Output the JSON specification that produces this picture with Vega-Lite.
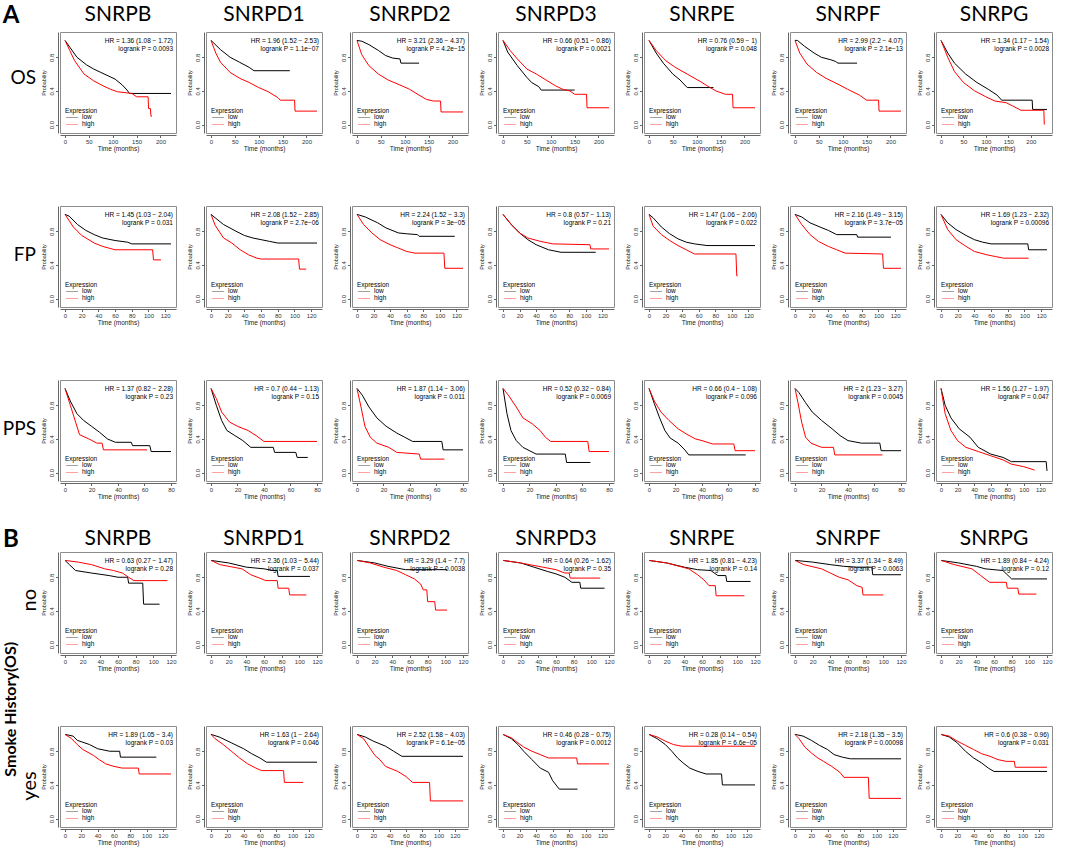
{
"$schema": "https://vega.github.io/schema/vega-lite/v6.json",
"background": "white",
"padding": {"top": 4, "left": 2, "right": 0, "bottom": 0},
"spacing": 27,
"config": {
 "font": "Liberation Sans",
 "view": {"stroke": "#8c8c8c", "strokeWidth": 1},
 "axis": {"grid": false, "labelFont": "Liberation Sans", "labelFontSize": 6, "labelColor": "#333", "tickColor": "#666", "domainColor": "#666", "tickSize": 2.5, "labelPadding": 1, "titleFont": "Liberation Sans", "titleFontWeight": "normal", "titleColor": "#222", "offset": 2},
 "axisX": {"titleFontSize": 6.5, "titlePadding": 1, "tickCount": 5},
 "axisY": {"titleFontSize": 5.5, "titlePadding": 2, "labelAngle": 270, "labelAlign": "center", "labelBaseline": "bottom"},
 "header": {"labelFont": "Lato", "labelColor": "#000", "titleFont": "Lato", "titleColor": "#000"},
 "title": {"font": "Lato", "color": "#000", "fontWeight": "bold"}
},
"datasets": {
 "A": [
{"g":"B","r":"OS","k":1,"h":"HR = 1.36 (1.08 − 1.72)","p":"logrank P = 0.0093"},
{"g":"D1","r":"OS","k":1,"h":"HR = 1.96 (1.52 − 2.53)","p":"logrank P = 1.1e−07"},
{"g":"D2","r":"OS","k":1,"h":"HR = 3.21 (2.36 − 4.37)","p":"logrank P = 4.2e−15"},
{"g":"D3","r":"OS","k":1,"h":"HR = 0.66 (0.51 − 0.86)","p":"logrank P = 0.0021"},
{"g":"E","r":"OS","k":1,"h":"HR = 0.76 (0.59 − 1)","p":"logrank P = 0.048"},
{"g":"F","r":"OS","k":1,"h":"HR = 2.99 (2.2 − 4.07)","p":"logrank P = 2.1e−13"},
{"g":"G","r":"OS","k":1,"h":"HR = 1.34 (1.17 − 1.54)","p":"logrank P = 0.0028"},
{"g":"B","r":"FP","k":1,"h":"HR = 1.45 (1.03 − 2.04)","p":"logrank P = 0.031"},
{"g":"D1","r":"FP","k":1,"h":"HR = 2.08 (1.52 − 2.85)","p":"logrank P = 2.7e−06"},
{"g":"D2","r":"FP","k":1,"h":"HR = 2.24 (1.52 − 3.3)","p":"logrank P = 3e−05"},
{"g":"D3","r":"FP","k":1,"h":"HR = 0.8 (0.57 − 1.13)","p":"logrank P = 0.21"},
{"g":"E","r":"FP","k":1,"h":"HR = 1.47 (1.06 − 2.06)","p":"logrank P = 0.022"},
{"g":"F","r":"FP","k":1,"h":"HR = 2.16 (1.49 − 3.15)","p":"logrank P = 3.7e−05"},
{"g":"G","r":"FP","k":1,"h":"HR = 1.69 (1.23 − 2.32)","p":"logrank P = 0.00096"},
{"g":"B","r":"PPS","k":1,"h":"HR = 1.37 (0.82 − 2.28)","p":"logrank P = 0.23"},
{"g":"D1","r":"PPS","k":1,"h":"HR = 0.7 (0.44 − 1.13)","p":"logrank P = 0.15"},
{"g":"D2","r":"PPS","k":1,"h":"HR = 1.87 (1.14 − 3.06)","p":"logrank P = 0.011"},
{"g":"D3","r":"PPS","k":1,"h":"HR = 0.52 (0.32 − 0.84)","p":"logrank P = 0.0069"},
{"g":"E","r":"PPS","k":1,"h":"HR = 0.66 (0.4 − 1.08)","p":"logrank P = 0.096"},
{"g":"F","r":"PPS","k":1,"h":"HR = 2 (1.23 − 3.27)","p":"logrank P = 0.0045"},
{"g":"G","r":"PPS","k":1,"h":"HR = 1.56 (1.27 − 1.97)","p":"logrank P = 0.047"},
{"g":"B","r":"OS","e":"l","t":0,"s":1},{"g":"B","r":"OS","e":"l","t":10,"s":0.92},{"g":"B","r":"OS","e":"l","t":25,"s":0.8},{"g":"B","r":"OS","e":"l","t":45,"s":0.71},{"g":"B","r":"OS","e":"l","t":60,"s":0.66},{"g":"B","r":"OS","e":"l","t":75,"s":0.62},{"g":"B","r":"OS","e":"l","t":90,"s":0.58},{"g":"B","r":"OS","e":"l","t":105,"s":0.54},{"g":"B","r":"OS","e":"l","t":120,"s":0.47},{"g":"B","r":"OS","e":"l","t":130,"s":0.41},{"g":"B","r":"OS","e":"l","t":135,"s":0.37},{"g":"B","r":"OS","e":"l","t":222,"s":0.37},
{"g":"B","r":"OS","e":"h","t":0,"s":1},{"g":"B","r":"OS","e":"h","t":10,"s":0.88},{"g":"B","r":"OS","e":"h","t":20,"s":0.76},{"g":"B","r":"OS","e":"h","t":40,"s":0.6},{"g":"B","r":"OS","e":"h","t":60,"s":0.52},{"g":"B","r":"OS","e":"h","t":80,"s":0.46},{"g":"B","r":"OS","e":"h","t":95,"s":0.42},{"g":"B","r":"OS","e":"h","t":110,"s":0.39},{"g":"B","r":"OS","e":"h","t":140,"s":0.37},{"g":"B","r":"OS","e":"h","t":150,"s":0.33},{"g":"B","r":"OS","e":"h","t":174,"s":0.33},{"g":"B","r":"OS","e":"h","t":175,"s":0.19},{"g":"B","r":"OS","e":"h","t":179,"s":0.19},{"g":"B","r":"OS","e":"h","t":180,"s":0.1},{"g":"B","r":"OS","e":"h","t":182,"s":0.1},
{"g":"D1","r":"OS","e":"l","t":0,"s":1},{"g":"D1","r":"OS","e":"l","t":20,"s":0.89},{"g":"D1","r":"OS","e":"l","t":40,"s":0.8},{"g":"D1","r":"OS","e":"l","t":60,"s":0.74},{"g":"D1","r":"OS","e":"l","t":80,"s":0.68},{"g":"D1","r":"OS","e":"l","t":90,"s":0.64},{"g":"D1","r":"OS","e":"l","t":165,"s":0.64},
{"g":"D1","r":"OS","e":"h","t":0,"s":1},{"g":"D1","r":"OS","e":"h","t":10,"s":0.85},{"g":"D1","r":"OS","e":"h","t":20,"s":0.74},{"g":"D1","r":"OS","e":"h","t":40,"s":0.62},{"g":"D1","r":"OS","e":"h","t":60,"s":0.55},{"g":"D1","r":"OS","e":"h","t":80,"s":0.5},{"g":"D1","r":"OS","e":"h","t":100,"s":0.44},{"g":"D1","r":"OS","e":"h","t":120,"s":0.39},{"g":"D1","r":"OS","e":"h","t":140,"s":0.32},{"g":"D1","r":"OS","e":"h","t":145,"s":0.29},{"g":"D1","r":"OS","e":"h","t":175,"s":0.29},{"g":"D1","r":"OS","e":"h","t":176,"s":0.16},{"g":"D1","r":"OS","e":"h","t":222,"s":0.16},
{"g":"D2","r":"OS","e":"l","t":0,"s":1},{"g":"D2","r":"OS","e":"l","t":10,"s":0.99},{"g":"D2","r":"OS","e":"l","t":25,"s":0.95},{"g":"D2","r":"OS","e":"l","t":45,"s":0.88},{"g":"D2","r":"OS","e":"l","t":60,"s":0.82},{"g":"D2","r":"OS","e":"l","t":75,"s":0.79},{"g":"D2","r":"OS","e":"l","t":90,"s":0.78},{"g":"D2","r":"OS","e":"l","t":92,"s":0.73},{"g":"D2","r":"OS","e":"l","t":130,"s":0.73},
{"g":"D2","r":"OS","e":"h","t":0,"s":1},{"g":"D2","r":"OS","e":"h","t":10,"s":0.83},{"g":"D2","r":"OS","e":"h","t":25,"s":0.7},{"g":"D2","r":"OS","e":"h","t":45,"s":0.6},{"g":"D2","r":"OS","e":"h","t":65,"s":0.53},{"g":"D2","r":"OS","e":"h","t":90,"s":0.47},{"g":"D2","r":"OS","e":"h","t":110,"s":0.42},{"g":"D2","r":"OS","e":"h","t":130,"s":0.35},{"g":"D2","r":"OS","e":"h","t":145,"s":0.3},{"g":"D2","r":"OS","e":"h","t":160,"s":0.28},{"g":"D2","r":"OS","e":"h","t":175,"s":0.28},{"g":"D2","r":"OS","e":"h","t":176,"s":0.15},{"g":"D2","r":"OS","e":"h","t":222,"s":0.15},
{"g":"D3","r":"OS","e":"l","t":0,"s":1},{"g":"D3","r":"OS","e":"l","t":10,"s":0.86},{"g":"D3","r":"OS","e":"l","t":30,"s":0.7},{"g":"D3","r":"OS","e":"l","t":50,"s":0.56},{"g":"D3","r":"OS","e":"l","t":60,"s":0.5},{"g":"D3","r":"OS","e":"l","t":75,"s":0.45},{"g":"D3","r":"OS","e":"l","t":80,"s":0.41},{"g":"D3","r":"OS","e":"l","t":150,"s":0.41},
{"g":"D3","r":"OS","e":"h","t":0,"s":1},{"g":"D3","r":"OS","e":"h","t":15,"s":0.88},{"g":"D3","r":"OS","e":"h","t":30,"s":0.78},{"g":"D3","r":"OS","e":"h","t":50,"s":0.66},{"g":"D3","r":"OS","e":"h","t":70,"s":0.6},{"g":"D3","r":"OS","e":"h","t":90,"s":0.53},{"g":"D3","r":"OS","e":"h","t":110,"s":0.46},{"g":"D3","r":"OS","e":"h","t":125,"s":0.42},{"g":"D3","r":"OS","e":"h","t":140,"s":0.4},{"g":"D3","r":"OS","e":"h","t":150,"s":0.36},{"g":"D3","r":"OS","e":"h","t":175,"s":0.36},{"g":"D3","r":"OS","e":"h","t":176,"s":0.2},{"g":"D3","r":"OS","e":"h","t":222,"s":0.2},
{"g":"E","r":"OS","e":"l","t":0,"s":1},{"g":"E","r":"OS","e":"l","t":15,"s":0.85},{"g":"E","r":"OS","e":"l","t":30,"s":0.73},{"g":"E","r":"OS","e":"l","t":50,"s":0.6},{"g":"E","r":"OS","e":"l","t":65,"s":0.53},{"g":"E","r":"OS","e":"l","t":80,"s":0.44},{"g":"E","r":"OS","e":"l","t":135,"s":0.44},
{"g":"E","r":"OS","e":"h","t":0,"s":1},{"g":"E","r":"OS","e":"h","t":15,"s":0.88},{"g":"E","r":"OS","e":"h","t":35,"s":0.76},{"g":"E","r":"OS","e":"h","t":55,"s":0.68},{"g":"E","r":"OS","e":"h","t":80,"s":0.6},{"g":"E","r":"OS","e":"h","t":105,"s":0.52},{"g":"E","r":"OS","e":"h","t":125,"s":0.45},{"g":"E","r":"OS","e":"h","t":140,"s":0.4},{"g":"E","r":"OS","e":"h","t":160,"s":0.36},{"g":"E","r":"OS","e":"h","t":175,"s":0.36},{"g":"E","r":"OS","e":"h","t":176,"s":0.2},{"g":"E","r":"OS","e":"h","t":222,"s":0.2},
{"g":"F","r":"OS","e":"l","t":0,"s":1},{"g":"F","r":"OS","e":"l","t":5,"s":1},{"g":"F","r":"OS","e":"l","t":20,"s":0.93},{"g":"F","r":"OS","e":"l","t":40,"s":0.85},{"g":"F","r":"OS","e":"l","t":55,"s":0.8},{"g":"F","r":"OS","e":"l","t":75,"s":0.77},{"g":"F","r":"OS","e":"l","t":85,"s":0.75},{"g":"F","r":"OS","e":"l","t":90,"s":0.73},{"g":"F","r":"OS","e":"l","t":130,"s":0.73},
{"g":"F","r":"OS","e":"h","t":0,"s":1},{"g":"F","r":"OS","e":"h","t":10,"s":0.85},{"g":"F","r":"OS","e":"h","t":25,"s":0.72},{"g":"F","r":"OS","e":"h","t":45,"s":0.62},{"g":"F","r":"OS","e":"h","t":65,"s":0.55},{"g":"F","r":"OS","e":"h","t":90,"s":0.48},{"g":"F","r":"OS","e":"h","t":110,"s":0.42},{"g":"F","r":"OS","e":"h","t":135,"s":0.35},{"g":"F","r":"OS","e":"h","t":150,"s":0.29},{"g":"F","r":"OS","e":"h","t":175,"s":0.29},{"g":"F","r":"OS","e":"h","t":176,"s":0.16},{"g":"F","r":"OS","e":"h","t":222,"s":0.16},
{"g":"G","r":"OS","e":"l","t":0,"s":1},{"g":"G","r":"OS","e":"l","t":15,"s":0.85},{"g":"G","r":"OS","e":"l","t":30,"s":0.73},{"g":"G","r":"OS","e":"l","t":55,"s":0.6},{"g":"G","r":"OS","e":"l","t":80,"s":0.5},{"g":"G","r":"OS","e":"l","t":105,"s":0.42},{"g":"G","r":"OS","e":"l","t":125,"s":0.35},{"g":"G","r":"OS","e":"l","t":135,"s":0.29},{"g":"G","r":"OS","e":"l","t":203,"s":0.29},{"g":"G","r":"OS","e":"l","t":204,"s":0.18},{"g":"G","r":"OS","e":"l","t":236,"s":0.18},
{"g":"G","r":"OS","e":"h","t":0,"s":1},{"g":"G","r":"OS","e":"h","t":15,"s":0.8},{"g":"G","r":"OS","e":"h","t":30,"s":0.63},{"g":"G","r":"OS","e":"h","t":50,"s":0.5},{"g":"G","r":"OS","e":"h","t":75,"s":0.4},{"g":"G","r":"OS","e":"h","t":100,"s":0.33},{"g":"G","r":"OS","e":"h","t":120,"s":0.28},{"g":"G","r":"OS","e":"h","t":145,"s":0.26},{"g":"G","r":"OS","e":"h","t":160,"s":0.22},{"g":"G","r":"OS","e":"h","t":178,"s":0.17},{"g":"G","r":"OS","e":"h","t":229,"s":0.17},{"g":"G","r":"OS","e":"h","t":230,"s":0},
{"g":"B","r":"FP","e":"l","t":0,"s":1},{"g":"B","r":"FP","e":"l","t":5,"s":0.98},{"g":"B","r":"FP","e":"l","t":15,"s":0.88},{"g":"B","r":"FP","e":"l","t":25,"s":0.81},{"g":"B","r":"FP","e":"l","t":35,"s":0.76},{"g":"B","r":"FP","e":"l","t":45,"s":0.72},{"g":"B","r":"FP","e":"l","t":60,"s":0.69},{"g":"B","r":"FP","e":"l","t":75,"s":0.67},{"g":"B","r":"FP","e":"l","t":80,"s":0.65},{"g":"B","r":"FP","e":"l","t":127,"s":0.65},
{"g":"B","r":"FP","e":"h","t":0,"s":1},{"g":"B","r":"FP","e":"h","t":10,"s":0.85},{"g":"B","r":"FP","e":"h","t":20,"s":0.75},{"g":"B","r":"FP","e":"h","t":35,"s":0.66},{"g":"B","r":"FP","e":"h","t":45,"s":0.62},{"g":"B","r":"FP","e":"h","t":60,"s":0.58},{"g":"B","r":"FP","e":"h","t":105,"s":0.58},{"g":"B","r":"FP","e":"h","t":106,"s":0.46},{"g":"B","r":"FP","e":"h","t":115,"s":0.46},
{"g":"D1","r":"FP","e":"l","t":0,"s":1},{"g":"D1","r":"FP","e":"l","t":5,"s":0.96},{"g":"D1","r":"FP","e":"l","t":15,"s":0.88},{"g":"D1","r":"FP","e":"l","t":30,"s":0.8},{"g":"D1","r":"FP","e":"l","t":40,"s":0.75},{"g":"D1","r":"FP","e":"l","t":50,"s":0.72},{"g":"D1","r":"FP","e":"l","t":60,"s":0.7},{"g":"D1","r":"FP","e":"l","t":70,"s":0.68},{"g":"D1","r":"FP","e":"l","t":80,"s":0.66},{"g":"D1","r":"FP","e":"l","t":127,"s":0.66},
{"g":"D1","r":"FP","e":"h","t":0,"s":1},{"g":"D1","r":"FP","e":"h","t":5,"s":0.87},{"g":"D1","r":"FP","e":"h","t":15,"s":0.72},{"g":"D1","r":"FP","e":"h","t":25,"s":0.66},{"g":"D1","r":"FP","e":"h","t":35,"s":0.58},{"g":"D1","r":"FP","e":"h","t":45,"s":0.52},{"g":"D1","r":"FP","e":"h","t":55,"s":0.48},{"g":"D1","r":"FP","e":"h","t":60,"s":0.47},{"g":"D1","r":"FP","e":"h","t":105,"s":0.47},{"g":"D1","r":"FP","e":"h","t":106,"s":0.35},{"g":"D1","r":"FP","e":"h","t":114,"s":0.35},
{"g":"D2","r":"FP","e":"l","t":0,"s":1},{"g":"D2","r":"FP","e":"l","t":10,"s":0.97},{"g":"D2","r":"FP","e":"l","t":25,"s":0.9},{"g":"D2","r":"FP","e":"l","t":35,"s":0.84},{"g":"D2","r":"FP","e":"l","t":50,"s":0.78},{"g":"D2","r":"FP","e":"l","t":60,"s":0.77},{"g":"D2","r":"FP","e":"l","t":73,"s":0.76},{"g":"D2","r":"FP","e":"l","t":75,"s":0.74},{"g":"D2","r":"FP","e":"l","t":118,"s":0.74},
{"g":"D2","r":"FP","e":"h","t":0,"s":1},{"g":"D2","r":"FP","e":"h","t":8,"s":0.88},{"g":"D2","r":"FP","e":"h","t":18,"s":0.78},{"g":"D2","r":"FP","e":"h","t":28,"s":0.7},{"g":"D2","r":"FP","e":"h","t":40,"s":0.64},{"g":"D2","r":"FP","e":"h","t":50,"s":0.6},{"g":"D2","r":"FP","e":"h","t":60,"s":0.56},{"g":"D2","r":"FP","e":"h","t":70,"s":0.54},{"g":"D2","r":"FP","e":"h","t":105,"s":0.54},{"g":"D2","r":"FP","e":"h","t":106,"s":0.36},{"g":"D2","r":"FP","e":"h","t":128,"s":0.36},
{"g":"D3","r":"FP","e":"l","t":0,"s":1},{"g":"D3","r":"FP","e":"l","t":10,"s":0.88},{"g":"D3","r":"FP","e":"l","t":20,"s":0.78},{"g":"D3","r":"FP","e":"l","t":30,"s":0.7},{"g":"D3","r":"FP","e":"l","t":40,"s":0.64},{"g":"D3","r":"FP","e":"l","t":55,"s":0.58},{"g":"D3","r":"FP","e":"l","t":70,"s":0.55},{"g":"D3","r":"FP","e":"l","t":112,"s":0.55},
{"g":"D3","r":"FP","e":"h","t":0,"s":1},{"g":"D3","r":"FP","e":"h","t":10,"s":0.88},{"g":"D3","r":"FP","e":"h","t":20,"s":0.78},{"g":"D3","r":"FP","e":"h","t":30,"s":0.72},{"g":"D3","r":"FP","e":"h","t":45,"s":0.68},{"g":"D3","r":"FP","e":"h","t":60,"s":0.65},{"g":"D3","r":"FP","e":"h","t":105,"s":0.64},{"g":"D3","r":"FP","e":"h","t":106,"s":0.59},{"g":"D3","r":"FP","e":"h","t":128,"s":0.59},
{"g":"E","r":"FP","e":"l","t":0,"s":1},{"g":"E","r":"FP","e":"l","t":5,"s":0.96},{"g":"E","r":"FP","e":"l","t":15,"s":0.85},{"g":"E","r":"FP","e":"l","t":25,"s":0.77},{"g":"E","r":"FP","e":"l","t":35,"s":0.71},{"g":"E","r":"FP","e":"l","t":45,"s":0.67},{"g":"E","r":"FP","e":"l","t":55,"s":0.65},{"g":"E","r":"FP","e":"l","t":70,"s":0.63},{"g":"E","r":"FP","e":"l","t":128,"s":0.63},
{"g":"E","r":"FP","e":"h","t":0,"s":1},{"g":"E","r":"FP","e":"h","t":5,"s":0.86},{"g":"E","r":"FP","e":"h","t":15,"s":0.76},{"g":"E","r":"FP","e":"h","t":25,"s":0.69},{"g":"E","r":"FP","e":"h","t":35,"s":0.63},{"g":"E","r":"FP","e":"h","t":45,"s":0.58},{"g":"E","r":"FP","e":"h","t":55,"s":0.53},{"g":"E","r":"FP","e":"h","t":105,"s":0.53},{"g":"E","r":"FP","e":"h","t":106,"s":0.27},{"g":"E","r":"FP","e":"h","t":107,"s":0.27},
{"g":"F","r":"FP","e":"l","t":0,"s":1},{"g":"F","r":"FP","e":"l","t":8,"s":0.97},{"g":"F","r":"FP","e":"l","t":18,"s":0.9},{"g":"F","r":"FP","e":"l","t":30,"s":0.85},{"g":"F","r":"FP","e":"l","t":40,"s":0.81},{"g":"F","r":"FP","e":"l","t":50,"s":0.76},{"g":"F","r":"FP","e":"l","t":74,"s":0.76},{"g":"F","r":"FP","e":"l","t":75,"s":0.73},{"g":"F","r":"FP","e":"l","t":115,"s":0.73},
{"g":"F","r":"FP","e":"h","t":0,"s":1},{"g":"F","r":"FP","e":"h","t":8,"s":0.88},{"g":"F","r":"FP","e":"h","t":18,"s":0.76},{"g":"F","r":"FP","e":"h","t":28,"s":0.68},{"g":"F","r":"FP","e":"h","t":40,"s":0.62},{"g":"F","r":"FP","e":"h","t":50,"s":0.58},{"g":"F","r":"FP","e":"h","t":60,"s":0.54},{"g":"F","r":"FP","e":"h","t":105,"s":0.53},{"g":"F","r":"FP","e":"h","t":106,"s":0.36},{"g":"F","r":"FP","e":"h","t":127,"s":0.36},
{"g":"G","r":"FP","e":"l","t":0,"s":1},{"g":"G","r":"FP","e":"l","t":8,"s":0.9},{"g":"G","r":"FP","e":"l","t":18,"s":0.82},{"g":"G","r":"FP","e":"l","t":30,"s":0.75},{"g":"G","r":"FP","e":"l","t":40,"s":0.7},{"g":"G","r":"FP","e":"l","t":50,"s":0.67},{"g":"G","r":"FP","e":"l","t":60,"s":0.65},{"g":"G","r":"FP","e":"l","t":104,"s":0.65},{"g":"G","r":"FP","e":"l","t":105,"s":0.58},{"g":"G","r":"FP","e":"l","t":127,"s":0.58},
{"g":"G","r":"FP","e":"h","t":0,"s":1},{"g":"G","r":"FP","e":"h","t":8,"s":0.82},{"g":"G","r":"FP","e":"h","t":18,"s":0.7},{"g":"G","r":"FP","e":"h","t":30,"s":0.62},{"g":"G","r":"FP","e":"h","t":40,"s":0.56},{"g":"G","r":"FP","e":"h","t":55,"s":0.52},{"g":"G","r":"FP","e":"h","t":65,"s":0.5},{"g":"G","r":"FP","e":"h","t":75,"s":0.48},{"g":"G","r":"FP","e":"h","t":105,"s":0.48},
{"g":"B","r":"PPS","e":"l","t":0,"s":1},{"g":"B","r":"PPS","e":"l","t":4,"s":0.85},{"g":"B","r":"PPS","e":"l","t":9,"s":0.7},{"g":"B","r":"PPS","e":"l","t":14,"s":0.62},{"g":"B","r":"PPS","e":"l","t":20,"s":0.55},{"g":"B","r":"PPS","e":"l","t":26,"s":0.48},{"g":"B","r":"PPS","e":"l","t":32,"s":0.4},{"g":"B","r":"PPS","e":"l","t":38,"s":0.36},{"g":"B","r":"PPS","e":"l","t":50,"s":0.36},{"g":"B","r":"PPS","e":"l","t":51,"s":0.32},{"g":"B","r":"PPS","e":"l","t":64,"s":0.32},{"g":"B","r":"PPS","e":"l","t":65,"s":0.25},{"g":"B","r":"PPS","e":"l","t":80,"s":0.25},
{"g":"B","r":"PPS","e":"h","t":0,"s":1},{"g":"B","r":"PPS","e":"h","t":4,"s":0.8},{"g":"B","r":"PPS","e":"h","t":8,"s":0.6},{"g":"B","r":"PPS","e":"h","t":11,"s":0.45},{"g":"B","r":"PPS","e":"h","t":18,"s":0.4},{"g":"B","r":"PPS","e":"h","t":24,"s":0.35},{"g":"B","r":"PPS","e":"h","t":28,"s":0.35},{"g":"B","r":"PPS","e":"h","t":29,"s":0.27},{"g":"B","r":"PPS","e":"h","t":62,"s":0.27},
{"g":"D1","r":"PPS","e":"l","t":0,"s":1},{"g":"D1","r":"PPS","e":"l","t":4,"s":0.8},{"g":"D1","r":"PPS","e":"l","t":8,"s":0.62},{"g":"D1","r":"PPS","e":"l","t":12,"s":0.5},{"g":"D1","r":"PPS","e":"l","t":18,"s":0.44},{"g":"D1","r":"PPS","e":"l","t":24,"s":0.38},{"g":"D1","r":"PPS","e":"l","t":30,"s":0.3},{"g":"D1","r":"PPS","e":"l","t":47,"s":0.3},{"g":"D1","r":"PPS","e":"l","t":48,"s":0.24},{"g":"D1","r":"PPS","e":"l","t":64,"s":0.24},{"g":"D1","r":"PPS","e":"l","t":65,"s":0.18},{"g":"D1","r":"PPS","e":"l","t":73,"s":0.18},
{"g":"D1","r":"PPS","e":"h","t":0,"s":1},{"g":"D1","r":"PPS","e":"h","t":4,"s":0.88},{"g":"D1","r":"PPS","e":"h","t":8,"s":0.72},{"g":"D1","r":"PPS","e":"h","t":14,"s":0.6},{"g":"D1","r":"PPS","e":"h","t":20,"s":0.55},{"g":"D1","r":"PPS","e":"h","t":28,"s":0.5},{"g":"D1","r":"PPS","e":"h","t":34,"s":0.44},{"g":"D1","r":"PPS","e":"h","t":40,"s":0.37},{"g":"D1","r":"PPS","e":"h","t":80,"s":0.37},
{"g":"D2","r":"PPS","e":"l","t":0,"s":1},{"g":"D2","r":"PPS","e":"l","t":4,"s":0.92},{"g":"D2","r":"PPS","e":"l","t":9,"s":0.78},{"g":"D2","r":"PPS","e":"l","t":15,"s":0.65},{"g":"D2","r":"PPS","e":"l","t":22,"s":0.55},{"g":"D2","r":"PPS","e":"l","t":30,"s":0.47},{"g":"D2","r":"PPS","e":"l","t":36,"s":0.42},{"g":"D2","r":"PPS","e":"l","t":42,"s":0.37},{"g":"D2","r":"PPS","e":"l","t":64,"s":0.37},{"g":"D2","r":"PPS","e":"l","t":65,"s":0.27},{"g":"D2","r":"PPS","e":"l","t":80,"s":0.27},
{"g":"D2","r":"PPS","e":"h","t":0,"s":1},{"g":"D2","r":"PPS","e":"h","t":3,"s":0.78},{"g":"D2","r":"PPS","e":"h","t":6,"s":0.55},{"g":"D2","r":"PPS","e":"h","t":10,"s":0.42},{"g":"D2","r":"PPS","e":"h","t":15,"s":0.35},{"g":"D2","r":"PPS","e":"h","t":24,"s":0.3},{"g":"D2","r":"PPS","e":"h","t":30,"s":0.24},{"g":"D2","r":"PPS","e":"h","t":47,"s":0.22},{"g":"D2","r":"PPS","e":"h","t":48,"s":0.16},{"g":"D2","r":"PPS","e":"h","t":66,"s":0.16},
{"g":"D3","r":"PPS","e":"l","t":0,"s":1},{"g":"D3","r":"PPS","e":"l","t":3,"s":0.7},{"g":"D3","r":"PPS","e":"l","t":6,"s":0.5},{"g":"D3","r":"PPS","e":"l","t":10,"s":0.38},{"g":"D3","r":"PPS","e":"l","t":15,"s":0.3},{"g":"D3","r":"PPS","e":"l","t":25,"s":0.22},{"g":"D3","r":"PPS","e":"l","t":47,"s":0.22},{"g":"D3","r":"PPS","e":"l","t":48,"s":0.12},{"g":"D3","r":"PPS","e":"l","t":66,"s":0.12},
{"g":"D3","r":"PPS","e":"h","t":0,"s":1},{"g":"D3","r":"PPS","e":"h","t":4,"s":0.92},{"g":"D3","r":"PPS","e":"h","t":10,"s":0.78},{"g":"D3","r":"PPS","e":"h","t":15,"s":0.65},{"g":"D3","r":"PPS","e":"h","t":22,"s":0.58},{"g":"D3","r":"PPS","e":"h","t":28,"s":0.5},{"g":"D3","r":"PPS","e":"h","t":32,"s":0.42},{"g":"D3","r":"PPS","e":"h","t":36,"s":0.37},{"g":"D3","r":"PPS","e":"h","t":64,"s":0.37},{"g":"D3","r":"PPS","e":"h","t":65,"s":0.25},{"g":"D3","r":"PPS","e":"h","t":80,"s":0.25},
{"g":"E","r":"PPS","e":"l","t":0,"s":1},{"g":"E","r":"PPS","e":"l","t":4,"s":0.82},{"g":"E","r":"PPS","e":"l","t":8,"s":0.65},{"g":"E","r":"PPS","e":"l","t":12,"s":0.5},{"g":"E","r":"PPS","e":"l","t":16,"s":0.41},{"g":"E","r":"PPS","e":"l","t":22,"s":0.35},{"g":"E","r":"PPS","e":"l","t":27,"s":0.27},{"g":"E","r":"PPS","e":"l","t":30,"s":0.21},{"g":"E","r":"PPS","e":"l","t":73,"s":0.21},
{"g":"E","r":"PPS","e":"h","t":0,"s":1},{"g":"E","r":"PPS","e":"h","t":4,"s":0.85},{"g":"E","r":"PPS","e":"h","t":9,"s":0.72},{"g":"E","r":"PPS","e":"h","t":15,"s":0.62},{"g":"E","r":"PPS","e":"h","t":22,"s":0.52},{"g":"E","r":"PPS","e":"h","t":28,"s":0.46},{"g":"E","r":"PPS","e":"h","t":35,"s":0.4},{"g":"E","r":"PPS","e":"h","t":40,"s":0.38},{"g":"E","r":"PPS","e":"h","t":48,"s":0.34},{"g":"E","r":"PPS","e":"h","t":64,"s":0.34},{"g":"E","r":"PPS","e":"h","t":65,"s":0.26},{"g":"E","r":"PPS","e":"h","t":80,"s":0.26},
{"g":"F","r":"PPS","e":"l","t":0,"s":1},{"g":"F","r":"PPS","e":"l","t":3,"s":0.95},{"g":"F","r":"PPS","e":"l","t":8,"s":0.83},{"g":"F","r":"PPS","e":"l","t":13,"s":0.72},{"g":"F","r":"PPS","e":"l","t":20,"s":0.62},{"g":"F","r":"PPS","e":"l","t":28,"s":0.52},{"g":"F","r":"PPS","e":"l","t":34,"s":0.44},{"g":"F","r":"PPS","e":"l","t":40,"s":0.38},{"g":"F","r":"PPS","e":"l","t":50,"s":0.35},{"g":"F","r":"PPS","e":"l","t":64,"s":0.35},{"g":"F","r":"PPS","e":"l","t":65,"s":0.26},{"g":"F","r":"PPS","e":"l","t":80,"s":0.26},
{"g":"F","r":"PPS","e":"h","t":0,"s":1},{"g":"F","r":"PPS","e":"h","t":2,"s":0.85},{"g":"F","r":"PPS","e":"h","t":5,"s":0.6},{"g":"F","r":"PPS","e":"h","t":8,"s":0.42},{"g":"F","r":"PPS","e":"h","t":12,"s":0.35},{"g":"F","r":"PPS","e":"h","t":20,"s":0.3},{"g":"F","r":"PPS","e":"h","t":29,"s":0.3},{"g":"F","r":"PPS","e":"h","t":30,"s":0.21},{"g":"F","r":"PPS","e":"h","t":66,"s":0.21},
{"g":"G","r":"PPS","e":"l","t":0,"s":1},{"g":"G","r":"PPS","e":"l","t":5,"s":0.8},{"g":"G","r":"PPS","e":"l","t":12,"s":0.65},{"g":"G","r":"PPS","e":"l","t":22,"s":0.52},{"g":"G","r":"PPS","e":"l","t":35,"s":0.42},{"g":"G","r":"PPS","e":"l","t":45,"s":0.3},{"g":"G","r":"PPS","e":"l","t":60,"s":0.22},{"g":"G","r":"PPS","e":"l","t":75,"s":0.18},{"g":"G","r":"PPS","e":"l","t":85,"s":0.13},{"g":"G","r":"PPS","e":"l","t":127,"s":0.13},{"g":"G","r":"PPS","e":"l","t":128,"s":0.02},
{"g":"G","r":"PPS","e":"h","t":0,"s":1},{"g":"G","r":"PPS","e":"h","t":5,"s":0.7},{"g":"G","r":"PPS","e":"h","t":12,"s":0.5},{"g":"G","r":"PPS","e":"h","t":20,"s":0.38},{"g":"G","r":"PPS","e":"h","t":30,"s":0.3},{"g":"G","r":"PPS","e":"h","t":45,"s":0.25},{"g":"G","r":"PPS","e":"h","t":60,"s":0.2},{"g":"G","r":"PPS","e":"h","t":75,"s":0.15},{"g":"G","r":"PPS","e":"h","t":85,"s":0.1},{"g":"G","r":"PPS","e":"h","t":100,"s":0.07},{"g":"G","r":"PPS","e":"h","t":113,"s":0.03}
 ],
 "B": [
{"g":"B","r":"no","k":1,"h":"HR = 0.63 (0.27 − 1.47)","p":"logrank P = 0.28"},
{"g":"D1","r":"no","k":1,"h":"HR = 2.36 (1.03 − 5.44)","p":"logrank P = 0.037"},
{"g":"D2","r":"no","k":1,"h":"HR = 3.29 (1.4 − 7.7)","p":"logrank P = 0.0038"},
{"g":"D3","r":"no","k":1,"h":"HR = 0.64 (0.26 − 1.62)","p":"logrank P = 0.35"},
{"g":"E","r":"no","k":1,"h":"HR = 1.85 (0.81 − 4.23)","p":"logrank P = 0.14"},
{"g":"F","r":"no","k":1,"h":"HR = 3.37 (1.34 − 8.49)","p":"logrank P = 0.0063"},
{"g":"G","r":"no","k":1,"h":"HR = 1.89 (0.84 − 4.24)","p":"logrank P = 0.12"},
{"g":"B","r":"yes","k":1,"h":"HR = 1.89 (1.05 − 3.4)","p":"logrank P = 0.03"},
{"g":"D1","r":"yes","k":1,"h":"HR = 1.63 (1 − 2.64)","p":"logrank P = 0.046"},
{"g":"D2","r":"yes","k":1,"h":"HR = 2.52 (1.58 − 4.03)","p":"logrank P = 6.1e−05"},
{"g":"D3","r":"yes","k":1,"h":"HR = 0.46 (0.28 − 0.75)","p":"logrank P = 0.0012"},
{"g":"E","r":"yes","k":1,"h":"HR = 0.28 (0.14 − 0.54)","p":"logrank P = 6.6e−05"},
{"g":"F","r":"yes","k":1,"h":"HR = 2.18 (1.35 − 3.5)","p":"logrank P = 0.00098"},
{"g":"G","r":"yes","k":1,"h":"HR = 0.6 (0.38 − 0.96)","p":"logrank P = 0.031"},
{"g":"B","r":"no","e":"l","t":0,"s":1},{"g":"B","r":"no","e":"l","t":5,"s":0.95},{"g":"B","r":"no","e":"l","t":12,"s":0.88},{"g":"B","r":"no","e":"l","t":30,"s":0.85},{"g":"B","r":"no","e":"l","t":50,"s":0.82},{"g":"B","r":"no","e":"l","t":60,"s":0.8},{"g":"B","r":"no","e":"l","t":71,"s":0.8},{"g":"B","r":"no","e":"l","t":72,"s":0.73},{"g":"B","r":"no","e":"l","t":88,"s":0.73},{"g":"B","r":"no","e":"l","t":89,"s":0.48},{"g":"B","r":"no","e":"l","t":107,"s":0.48},
{"g":"B","r":"no","e":"h","t":0,"s":1},{"g":"B","r":"no","e":"h","t":15,"s":0.98},{"g":"B","r":"no","e":"h","t":30,"s":0.95},{"g":"B","r":"no","e":"h","t":45,"s":0.9},{"g":"B","r":"no","e":"h","t":55,"s":0.88},{"g":"B","r":"no","e":"h","t":65,"s":0.85},{"g":"B","r":"no","e":"h","t":72,"s":0.8},{"g":"B","r":"no","e":"h","t":78,"s":0.76},{"g":"B","r":"no","e":"h","t":116,"s":0.76},
{"g":"D1","r":"no","e":"l","t":0,"s":1},{"g":"D1","r":"no","e":"l","t":20,"s":0.97},{"g":"D1","r":"no","e":"l","t":40,"s":0.92},{"g":"D1","r":"no","e":"l","t":60,"s":0.9},{"g":"D1","r":"no","e":"l","t":70,"s":0.88},{"g":"D1","r":"no","e":"l","t":75,"s":0.88},{"g":"D1","r":"no","e":"l","t":76,"s":0.81},{"g":"D1","r":"no","e":"l","t":112,"s":0.81},
{"g":"D1","r":"no","e":"h","t":0,"s":1},{"g":"D1","r":"no","e":"h","t":10,"s":0.95},{"g":"D1","r":"no","e":"h","t":35,"s":0.9},{"g":"D1","r":"no","e":"h","t":45,"s":0.83},{"g":"D1","r":"no","e":"h","t":55,"s":0.79},{"g":"D1","r":"no","e":"h","t":62,"s":0.76},{"g":"D1","r":"no","e":"h","t":75,"s":0.76},{"g":"D1","r":"no","e":"h","t":76,"s":0.67},{"g":"D1","r":"no","e":"h","t":88,"s":0.67},{"g":"D1","r":"no","e":"h","t":89,"s":0.59},{"g":"D1","r":"no","e":"h","t":108,"s":0.59},
{"g":"D2","r":"no","e":"l","t":0,"s":1},{"g":"D2","r":"no","e":"l","t":20,"s":0.97},{"g":"D2","r":"no","e":"l","t":35,"s":0.93},{"g":"D2","r":"no","e":"l","t":50,"s":0.9},{"g":"D2","r":"no","e":"l","t":55,"s":0.89},{"g":"D2","r":"no","e":"l","t":102,"s":0.89},
{"g":"D2","r":"no","e":"h","t":0,"s":1},{"g":"D2","r":"no","e":"h","t":15,"s":0.97},{"g":"D2","r":"no","e":"h","t":30,"s":0.92},{"g":"D2","r":"no","e":"h","t":45,"s":0.88},{"g":"D2","r":"no","e":"h","t":55,"s":0.83},{"g":"D2","r":"no","e":"h","t":65,"s":0.78},{"g":"D2","r":"no","e":"h","t":72,"s":0.72},{"g":"D2","r":"no","e":"h","t":75,"s":0.65},{"g":"D2","r":"no","e":"h","t":79,"s":0.65},{"g":"D2","r":"no","e":"h","t":80,"s":0.51},{"g":"D2","r":"no","e":"h","t":88,"s":0.51},{"g":"D2","r":"no","e":"h","t":89,"s":0.41},{"g":"D2","r":"no","e":"h","t":102,"s":0.41},
{"g":"D3","r":"no","e":"l","t":0,"s":1},{"g":"D3","r":"no","e":"l","t":20,"s":0.97},{"g":"D3","r":"no","e":"l","t":35,"s":0.92},{"g":"D3","r":"no","e":"l","t":50,"s":0.87},{"g":"D3","r":"no","e":"l","t":60,"s":0.84},{"g":"D3","r":"no","e":"l","t":70,"s":0.8},{"g":"D3","r":"no","e":"l","t":78,"s":0.74},{"g":"D3","r":"no","e":"l","t":87,"s":0.74},{"g":"D3","r":"no","e":"l","t":88,"s":0.67},{"g":"D3","r":"no","e":"l","t":115,"s":0.67},
{"g":"D3","r":"no","e":"h","t":0,"s":1},{"g":"D3","r":"no","e":"h","t":20,"s":0.97},{"g":"D3","r":"no","e":"h","t":45,"s":0.92},{"g":"D3","r":"no","e":"h","t":60,"s":0.89},{"g":"D3","r":"no","e":"h","t":70,"s":0.85},{"g":"D3","r":"no","e":"h","t":75,"s":0.85},{"g":"D3","r":"no","e":"h","t":76,"s":0.79},{"g":"D3","r":"no","e":"h","t":110,"s":0.79},
{"g":"E","r":"no","e":"l","t":0,"s":1},{"g":"E","r":"no","e":"l","t":20,"s":0.97},{"g":"E","r":"no","e":"l","t":40,"s":0.92},{"g":"E","r":"no","e":"l","t":55,"s":0.89},{"g":"E","r":"no","e":"l","t":70,"s":0.88},{"g":"E","r":"no","e":"l","t":78,"s":0.82},{"g":"E","r":"no","e":"l","t":87,"s":0.82},{"g":"E","r":"no","e":"l","t":88,"s":0.75},{"g":"E","r":"no","e":"l","t":115,"s":0.75},
{"g":"E","r":"no","e":"h","t":0,"s":1},{"g":"E","r":"no","e":"h","t":20,"s":0.97},{"g":"E","r":"no","e":"h","t":45,"s":0.9},{"g":"E","r":"no","e":"h","t":55,"s":0.83},{"g":"E","r":"no","e":"h","t":62,"s":0.77},{"g":"E","r":"no","e":"h","t":68,"s":0.7},{"g":"E","r":"no","e":"h","t":75,"s":0.7},{"g":"E","r":"no","e":"h","t":76,"s":0.58},{"g":"E","r":"no","e":"h","t":108,"s":0.58},
{"g":"F","r":"no","e":"l","t":0,"s":1},{"g":"F","r":"no","e":"l","t":20,"s":0.98},{"g":"F","r":"no","e":"l","t":40,"s":0.95},{"g":"F","r":"no","e":"l","t":55,"s":0.93},{"g":"F","r":"no","e":"l","t":70,"s":0.92},{"g":"F","r":"no","e":"l","t":87,"s":0.92},{"g":"F","r":"no","e":"l","t":88,"s":0.83},{"g":"F","r":"no","e":"l","t":120,"s":0.83},
{"g":"F","r":"no","e":"h","t":0,"s":1},{"g":"F","r":"no","e":"h","t":10,"s":0.95},{"g":"F","r":"no","e":"h","t":30,"s":0.9},{"g":"F","r":"no","e":"h","t":40,"s":0.85},{"g":"F","r":"no","e":"h","t":50,"s":0.8},{"g":"F","r":"no","e":"h","t":60,"s":0.77},{"g":"F","r":"no","e":"h","t":70,"s":0.7},{"g":"F","r":"no","e":"h","t":76,"s":0.68},{"g":"F","r":"no","e":"h","t":77,"s":0.59},{"g":"F","r":"no","e":"h","t":100,"s":0.59},
{"g":"G","r":"no","e":"l","t":0,"s":1},{"g":"G","r":"no","e":"l","t":20,"s":0.97},{"g":"G","r":"no","e":"l","t":40,"s":0.93},{"g":"G","r":"no","e":"l","t":50,"s":0.9},{"g":"G","r":"no","e":"l","t":70,"s":0.88},{"g":"G","r":"no","e":"l","t":76,"s":0.82},{"g":"G","r":"no","e":"l","t":80,"s":0.78},{"g":"G","r":"no","e":"l","t":120,"s":0.78},
{"g":"G","r":"no","e":"h","t":0,"s":1},{"g":"G","r":"no","e":"h","t":15,"s":0.95},{"g":"G","r":"no","e":"h","t":35,"s":0.9},{"g":"G","r":"no","e":"h","t":45,"s":0.82},{"g":"G","r":"no","e":"h","t":55,"s":0.74},{"g":"G","r":"no","e":"h","t":74,"s":0.74},{"g":"G","r":"no","e":"h","t":75,"s":0.67},{"g":"G","r":"no","e":"h","t":87,"s":0.67},{"g":"G","r":"no","e":"h","t":88,"s":0.6},{"g":"G","r":"no","e":"h","t":108,"s":0.6},
{"g":"B","r":"yes","e":"l","t":0,"s":1},{"g":"B","r":"yes","e":"l","t":10,"s":0.98},{"g":"B","r":"yes","e":"l","t":15,"s":0.93},{"g":"B","r":"yes","e":"l","t":30,"s":0.88},{"g":"B","r":"yes","e":"l","t":40,"s":0.83},{"g":"B","r":"yes","e":"l","t":55,"s":0.8},{"g":"B","r":"yes","e":"l","t":67,"s":0.8},{"g":"B","r":"yes","e":"l","t":68,"s":0.73},{"g":"B","r":"yes","e":"l","t":112,"s":0.73},
{"g":"B","r":"yes","e":"h","t":0,"s":1},{"g":"B","r":"yes","e":"h","t":8,"s":0.95},{"g":"B","r":"yes","e":"h","t":15,"s":0.88},{"g":"B","r":"yes","e":"h","t":22,"s":0.82},{"g":"B","r":"yes","e":"h","t":35,"s":0.75},{"g":"B","r":"yes","e":"h","t":42,"s":0.7},{"g":"B","r":"yes","e":"h","t":50,"s":0.65},{"g":"B","r":"yes","e":"h","t":60,"s":0.62},{"g":"B","r":"yes","e":"h","t":70,"s":0.6},{"g":"B","r":"yes","e":"h","t":90,"s":0.6},{"g":"B","r":"yes","e":"h","t":91,"s":0.53},{"g":"B","r":"yes","e":"h","t":130,"s":0.53},
{"g":"D1","r":"yes","e":"l","t":0,"s":1},{"g":"D1","r":"yes","e":"l","t":10,"s":0.97},{"g":"D1","r":"yes","e":"l","t":25,"s":0.9},{"g":"D1","r":"yes","e":"l","t":40,"s":0.83},{"g":"D1","r":"yes","e":"l","t":50,"s":0.77},{"g":"D1","r":"yes","e":"l","t":60,"s":0.72},{"g":"D1","r":"yes","e":"l","t":68,"s":0.67},{"g":"D1","r":"yes","e":"l","t":130,"s":0.67},
{"g":"D1","r":"yes","e":"h","t":0,"s":1},{"g":"D1","r":"yes","e":"h","t":5,"s":0.95},{"g":"D1","r":"yes","e":"h","t":15,"s":0.88},{"g":"D1","r":"yes","e":"h","t":25,"s":0.8},{"g":"D1","r":"yes","e":"h","t":35,"s":0.72},{"g":"D1","r":"yes","e":"h","t":45,"s":0.65},{"g":"D1","r":"yes","e":"h","t":55,"s":0.6},{"g":"D1","r":"yes","e":"h","t":62,"s":0.57},{"g":"D1","r":"yes","e":"h","t":89,"s":0.57},{"g":"D1","r":"yes","e":"h","t":90,"s":0.43},{"g":"D1","r":"yes","e":"h","t":113,"s":0.43},
{"g":"D2","r":"yes","e":"l","t":0,"s":1},{"g":"D2","r":"yes","e":"l","t":10,"s":0.97},{"g":"D2","r":"yes","e":"l","t":20,"s":0.92},{"g":"D2","r":"yes","e":"l","t":35,"s":0.86},{"g":"D2","r":"yes","e":"l","t":45,"s":0.8},{"g":"D2","r":"yes","e":"l","t":55,"s":0.74},{"g":"D2","r":"yes","e":"l","t":130,"s":0.74},
{"g":"D2","r":"yes","e":"h","t":0,"s":1},{"g":"D2","r":"yes","e":"h","t":8,"s":0.95},{"g":"D2","r":"yes","e":"h","t":15,"s":0.85},{"g":"D2","r":"yes","e":"h","t":22,"s":0.75},{"g":"D2","r":"yes","e":"h","t":28,"s":0.7},{"g":"D2","r":"yes","e":"h","t":35,"s":0.62},{"g":"D2","r":"yes","e":"h","t":50,"s":0.56},{"g":"D2","r":"yes","e":"h","t":60,"s":0.5},{"g":"D2","r":"yes","e":"h","t":68,"s":0.43},{"g":"D2","r":"yes","e":"h","t":89,"s":0.43},{"g":"D2","r":"yes","e":"h","t":90,"s":0.21},{"g":"D2","r":"yes","e":"h","t":130,"s":0.21},
{"g":"D3","r":"yes","e":"l","t":0,"s":1},{"g":"D3","r":"yes","e":"l","t":10,"s":0.95},{"g":"D3","r":"yes","e":"l","t":18,"s":0.88},{"g":"D3","r":"yes","e":"l","t":25,"s":0.8},{"g":"D3","r":"yes","e":"l","t":35,"s":0.7},{"g":"D3","r":"yes","e":"l","t":45,"s":0.6},{"g":"D3","r":"yes","e":"l","t":55,"s":0.55},{"g":"D3","r":"yes","e":"l","t":60,"s":0.45},{"g":"D3","r":"yes","e":"l","t":68,"s":0.35},{"g":"D3","r":"yes","e":"l","t":90,"s":0.35},
{"g":"D3","r":"yes","e":"h","t":0,"s":1},{"g":"D3","r":"yes","e":"h","t":10,"s":0.96},{"g":"D3","r":"yes","e":"h","t":18,"s":0.9},{"g":"D3","r":"yes","e":"h","t":25,"s":0.85},{"g":"D3","r":"yes","e":"h","t":35,"s":0.8},{"g":"D3","r":"yes","e":"h","t":45,"s":0.76},{"g":"D3","r":"yes","e":"h","t":55,"s":0.72},{"g":"D3","r":"yes","e":"h","t":89,"s":0.72},{"g":"D3","r":"yes","e":"h","t":90,"s":0.65},{"g":"D3","r":"yes","e":"h","t":128,"s":0.65},
{"g":"E","r":"yes","e":"l","t":0,"s":1},{"g":"E","r":"yes","e":"l","t":10,"s":0.95},{"g":"E","r":"yes","e":"l","t":20,"s":0.88},{"g":"E","r":"yes","e":"l","t":28,"s":0.8},{"g":"E","r":"yes","e":"l","t":35,"s":0.72},{"g":"E","r":"yes","e":"l","t":42,"s":0.66},{"g":"E","r":"yes","e":"l","t":50,"s":0.6},{"g":"E","r":"yes","e":"l","t":60,"s":0.56},{"g":"E","r":"yes","e":"l","t":70,"s":0.53},{"g":"E","r":"yes","e":"l","t":89,"s":0.53},{"g":"E","r":"yes","e":"l","t":90,"s":0.4},{"g":"E","r":"yes","e":"l","t":130,"s":0.4},
{"g":"E","r":"yes","e":"h","t":0,"s":1},{"g":"E","r":"yes","e":"h","t":10,"s":0.97},{"g":"E","r":"yes","e":"h","t":20,"s":0.92},{"g":"E","r":"yes","e":"h","t":30,"s":0.88},{"g":"E","r":"yes","e":"h","t":40,"s":0.86},{"g":"E","r":"yes","e":"h","t":130,"s":0.86},
{"g":"F","r":"yes","e":"l","t":0,"s":1},{"g":"F","r":"yes","e":"l","t":10,"s":0.98},{"g":"F","r":"yes","e":"l","t":20,"s":0.93},{"g":"F","r":"yes","e":"l","t":30,"s":0.87},{"g":"F","r":"yes","e":"l","t":40,"s":0.82},{"g":"F","r":"yes","e":"l","t":48,"s":0.76},{"g":"F","r":"yes","e":"l","t":58,"s":0.73},{"g":"F","r":"yes","e":"l","t":68,"s":0.71},{"g":"F","r":"yes","e":"l","t":130,"s":0.71},
{"g":"F","r":"yes","e":"h","t":0,"s":1},{"g":"F","r":"yes","e":"h","t":5,"s":0.95},{"g":"F","r":"yes","e":"h","t":12,"s":0.85},{"g":"F","r":"yes","e":"h","t":20,"s":0.78},{"g":"F","r":"yes","e":"h","t":28,"s":0.72},{"g":"F","r":"yes","e":"h","t":35,"s":0.68},{"g":"F","r":"yes","e":"h","t":45,"s":0.62},{"g":"F","r":"yes","e":"h","t":55,"s":0.55},{"g":"F","r":"yes","e":"h","t":60,"s":0.49},{"g":"F","r":"yes","e":"h","t":90,"s":0.49},{"g":"F","r":"yes","e":"h","t":91,"s":0.24},{"g":"F","r":"yes","e":"h","t":130,"s":0.24},
{"g":"G","r":"yes","e":"l","t":0,"s":1},{"g":"G","r":"yes","e":"l","t":10,"s":0.97},{"g":"G","r":"yes","e":"l","t":20,"s":0.9},{"g":"G","r":"yes","e":"l","t":30,"s":0.8},{"g":"G","r":"yes","e":"l","t":40,"s":0.72},{"g":"G","r":"yes","e":"l","t":50,"s":0.66},{"g":"G","r":"yes","e":"l","t":58,"s":0.6},{"g":"G","r":"yes","e":"l","t":65,"s":0.56},{"g":"G","r":"yes","e":"l","t":130,"s":0.56},
{"g":"G","r":"yes","e":"h","t":0,"s":1},{"g":"G","r":"yes","e":"h","t":10,"s":0.98},{"g":"G","r":"yes","e":"h","t":20,"s":0.92},{"g":"G","r":"yes","e":"h","t":30,"s":0.87},{"g":"G","r":"yes","e":"h","t":40,"s":0.82},{"g":"G","r":"yes","e":"h","t":50,"s":0.77},{"g":"G","r":"yes","e":"h","t":60,"s":0.74},{"g":"G","r":"yes","e":"h","t":70,"s":0.7},{"g":"G","r":"yes","e":"h","t":80,"s":0.68},{"g":"G","r":"yes","e":"h","t":90,"s":0.68},{"g":"G","r":"yes","e":"h","t":91,"s":0.61},{"g":"G","r":"yes","e":"h","t":130,"s":0.61}
 ]
},
"vconcat": [
 {
  "title": {"text": "A", "anchor": "start", "frame": "bounds", "offset": -24, "fontSize": 24},
  "spacing": 52,
  "vconcat": [
   {
    "data": {"name": "A"},
    "transform": [{"filter": "datum.r == 'OS'"}],
    "title": {"text": "OS", "orient": "left", "angle": 0, "align": "left", "baseline": "middle", "anchor": "middle", "frame": "bounds", "fontSize": 19, "fontWeight": "normal", "offset": 5},
    "facet": {"column": {"field": "g", "type": "nominal", "header": {"title": null, "labelExpr": "'SNRP' + datum.value", "labelFontSize": 21, "labelPadding": 6}}},
    "spacing": {"column": 10},
    "resolve": {"scale": {"x": "independent", "y": "independent"}},
    "spec": {
     "width": 116, "height": 101,
     "layer": [
      {"transform": [{"filter": "!datum.k"}], "mark": {"type": "line", "strokeWidth": 1},
       "encoding": {
        "x": {"field": "t", "type": "quantitative", "scale": {"nice": false, "padding": 5}, "axis": {"title": "Time (months)"}},
        "y": {"field": "s", "type": "quantitative", "scale": {"domain": [0, 1], "padding": 4}, "axis": {"title": "Probability", "values": [0, 0.2, 0.4, 0.6, 0.8, 1], "format": ".1f"}},
        "color": {"field": "e", "type": "nominal", "scale": {"domain": ["l", "h"], "range": ["#000000", "#ff0000"]}, "legend": null}}},
      {"transform": [{"filter": "datum.k"}], "mark": {"type": "text", "align": "right", "baseline": "middle", "fontSize": 6.5, "dx": -3, "dy": 1}, "encoding": {"x": {"value": "width"}, "y": {"datum": 1}, "text": {"field": "h"}}},
      {"transform": [{"filter": "datum.k"}], "mark": {"type": "text", "align": "right", "baseline": "middle", "fontSize": 6.5, "dx": -3, "dy": 9}, "encoding": {"x": {"value": "width"}, "y": {"datum": 1}, "text": {"field": "p"}}},
      {"transform": [{"filter": "datum.k"}], "mark": {"type": "text", "align": "left", "baseline": "middle", "fontSize": 6.5, "dx": 0}, "encoding": {"x": {"datum": 0}, "y": {"datum": 0.16}, "text": {"value": "Expression"}}},
      {"transform": [{"filter": "datum.k"}], "mark": {"type": "text", "align": "left", "baseline": "middle", "fontSize": 6, "dx": 1, "color": "#000000"}, "encoding": {"x": {"datum": 0}, "y": {"datum": 0.085}, "text": {"value": "——"}}},
      {"transform": [{"filter": "datum.k"}], "mark": {"type": "text", "align": "left", "baseline": "middle", "fontSize": 6.5, "dx": 17}, "encoding": {"x": {"datum": 0}, "y": {"datum": 0.085}, "text": {"value": "low"}}},
      {"transform": [{"filter": "datum.k"}], "mark": {"type": "text", "align": "left", "baseline": "middle", "fontSize": 6, "dx": 1, "color": "#ff0000"}, "encoding": {"x": {"datum": 0}, "y": {"datum": 0.01}, "text": {"value": "——"}}},
      {"transform": [{"filter": "datum.k"}], "mark": {"type": "text", "align": "left", "baseline": "middle", "fontSize": 6.5, "dx": 17}, "encoding": {"x": {"datum": 0}, "y": {"datum": 0.01}, "text": {"value": "high"}}}
     ]
    }
   },
   {
    "data": {"name": "A"},
    "transform": [{"filter": "datum.r == 'FP'"}],
    "title": {"text": "FP", "orient": "left", "angle": 0, "align": "left", "baseline": "middle", "anchor": "middle", "frame": "bounds", "fontSize": 19, "fontWeight": "normal", "offset": 5, "dy": -11},
    "facet": {"column": {"field": "g", "type": "nominal", "header": {"title": null, "labels": false}}},
    "spacing": {"column": 10},
    "resolve": {"scale": {"x": "independent", "y": "independent"}},
    "spec": {
     "width": 116, "height": 101,
     "layer": [
      {"transform": [{"filter": "!datum.k"}], "mark": {"type": "line", "strokeWidth": 1},
       "encoding": {
        "x": {"field": "t", "type": "quantitative", "scale": {"nice": false, "padding": 5}, "axis": {"title": "Time (months)"}},
        "y": {"field": "s", "type": "quantitative", "scale": {"domain": [0, 1], "padding": 4}, "axis": {"title": "Probability", "values": [0, 0.2, 0.4, 0.6, 0.8, 1], "format": ".1f"}},
        "color": {"field": "e", "type": "nominal", "scale": {"domain": ["l", "h"], "range": ["#000000", "#ff0000"]}, "legend": null}}},
      {"transform": [{"filter": "datum.k"}], "mark": {"type": "text", "align": "right", "baseline": "middle", "fontSize": 6.5, "dx": -3, "dy": 1}, "encoding": {"x": {"value": "width"}, "y": {"datum": 1}, "text": {"field": "h"}}},
      {"transform": [{"filter": "datum.k"}], "mark": {"type": "text", "align": "right", "baseline": "middle", "fontSize": 6.5, "dx": -3, "dy": 9}, "encoding": {"x": {"value": "width"}, "y": {"datum": 1}, "text": {"field": "p"}}},
      {"transform": [{"filter": "datum.k"}], "mark": {"type": "text", "align": "left", "baseline": "middle", "fontSize": 6.5, "dx": 0}, "encoding": {"x": {"datum": 0}, "y": {"datum": 0.16}, "text": {"value": "Expression"}}},
      {"transform": [{"filter": "datum.k"}], "mark": {"type": "text", "align": "left", "baseline": "middle", "fontSize": 6, "dx": 1, "color": "#000000"}, "encoding": {"x": {"datum": 0}, "y": {"datum": 0.085}, "text": {"value": "——"}}},
      {"transform": [{"filter": "datum.k"}], "mark": {"type": "text", "align": "left", "baseline": "middle", "fontSize": 6.5, "dx": 17}, "encoding": {"x": {"datum": 0}, "y": {"datum": 0.085}, "text": {"value": "low"}}},
      {"transform": [{"filter": "datum.k"}], "mark": {"type": "text", "align": "left", "baseline": "middle", "fontSize": 6, "dx": 1, "color": "#ff0000"}, "encoding": {"x": {"datum": 0}, "y": {"datum": 0.01}, "text": {"value": "——"}}},
      {"transform": [{"filter": "datum.k"}], "mark": {"type": "text", "align": "left", "baseline": "middle", "fontSize": 6.5, "dx": 17}, "encoding": {"x": {"datum": 0}, "y": {"datum": 0.01}, "text": {"value": "high"}}}
     ]
    }
   },
   {
    "data": {"name": "A"},
    "transform": [{"filter": "datum.r == 'PPS'"}],
    "title": {"text": "PPS", "orient": "left", "angle": 0, "align": "left", "baseline": "middle", "anchor": "middle", "frame": "bounds", "fontSize": 19, "fontWeight": "normal", "offset": 5, "dy": -11},
    "facet": {"column": {"field": "g", "type": "nominal", "header": {"title": null, "labels": false}}},
    "spacing": {"column": 10},
    "resolve": {"scale": {"x": "independent", "y": "independent"}},
    "spec": {
     "width": 116, "height": 101,
     "layer": [
      {"transform": [{"filter": "!datum.k"}], "mark": {"type": "line", "strokeWidth": 1},
       "encoding": {
        "x": {"field": "t", "type": "quantitative", "scale": {"nice": false, "padding": 5}, "axis": {"title": "Time (months)"}},
        "y": {"field": "s", "type": "quantitative", "scale": {"domain": [0, 1], "padding": 4}, "axis": {"title": "Probability", "values": [0, 0.2, 0.4, 0.6, 0.8, 1], "format": ".1f"}},
        "color": {"field": "e", "type": "nominal", "scale": {"domain": ["l", "h"], "range": ["#000000", "#ff0000"]}, "legend": null}}},
      {"transform": [{"filter": "datum.k"}], "mark": {"type": "text", "align": "right", "baseline": "middle", "fontSize": 6.5, "dx": -3, "dy": 1}, "encoding": {"x": {"value": "width"}, "y": {"datum": 1}, "text": {"field": "h"}}},
      {"transform": [{"filter": "datum.k"}], "mark": {"type": "text", "align": "right", "baseline": "middle", "fontSize": 6.5, "dx": -3, "dy": 9}, "encoding": {"x": {"value": "width"}, "y": {"datum": 1}, "text": {"field": "p"}}},
      {"transform": [{"filter": "datum.k"}], "mark": {"type": "text", "align": "left", "baseline": "middle", "fontSize": 6.5, "dx": 0}, "encoding": {"x": {"datum": 0}, "y": {"datum": 0.16}, "text": {"value": "Expression"}}},
      {"transform": [{"filter": "datum.k"}], "mark": {"type": "text", "align": "left", "baseline": "middle", "fontSize": 6, "dx": 1, "color": "#000000"}, "encoding": {"x": {"datum": 0}, "y": {"datum": 0.085}, "text": {"value": "——"}}},
      {"transform": [{"filter": "datum.k"}], "mark": {"type": "text", "align": "left", "baseline": "middle", "fontSize": 6.5, "dx": 17}, "encoding": {"x": {"datum": 0}, "y": {"datum": 0.085}, "text": {"value": "low"}}},
      {"transform": [{"filter": "datum.k"}], "mark": {"type": "text", "align": "left", "baseline": "middle", "fontSize": 6, "dx": 1, "color": "#ff0000"}, "encoding": {"x": {"datum": 0}, "y": {"datum": 0.01}, "text": {"value": "——"}}},
      {"transform": [{"filter": "datum.k"}], "mark": {"type": "text", "align": "left", "baseline": "middle", "fontSize": 6.5, "dx": 17}, "encoding": {"x": {"datum": 0}, "y": {"datum": 0.01}, "text": {"value": "high"}}}
     ]
    }
   }
  ]
 },
 {
  "title": {"text": "B", "anchor": "start", "frame": "bounds", "offset": -24, "fontSize": 24},
  "vconcat": [
   {
    "title": {"text": "Smoke History(OS)", "orient": "left", "anchor": "middle", "frame": "bounds", "fontSize": 16, "offset": 1, "dx": -22},
    "spacing": 52,
    "vconcat": [
     {
      "data": {"name": "B"},
      "transform": [{"filter": "datum.r == 'no'"}],
      "title": {"text": "no", "orient": "left", "anchor": "middle", "frame": "bounds", "fontSize": 20, "fontWeight": "normal", "offset": 1},
      "facet": {"column": {"field": "g", "type": "nominal", "header": {"title": null, "labelExpr": "'SNRP' + datum.value", "labelFontSize": 21, "labelPadding": 2}}},
      "spacing": {"column": 10},
      "resolve": {"scale": {"x": "independent", "y": "independent"}},
      "spec": {
       "width": 116, "height": 101,
       "layer": [
        {"transform": [{"filter": "!datum.k"}], "mark": {"type": "line", "strokeWidth": 1},
         "encoding": {
          "x": {"field": "t", "type": "quantitative", "scale": {"nice": false, "padding": 5, "domain": {"unionWith": [0, 120]}}, "axis": {"title": "Time (months)"}},
          "y": {"field": "s", "type": "quantitative", "scale": {"domain": [0, 1], "padding": 4}, "axis": {"title": "Probability", "values": [0, 0.2, 0.4, 0.6, 0.8, 1], "format": ".1f"}},
          "color": {"field": "e", "type": "nominal", "scale": {"domain": ["l", "h"], "range": ["#000000", "#ff0000"]}, "legend": null}}},
        {"transform": [{"filter": "datum.k"}], "mark": {"type": "text", "align": "right", "baseline": "middle", "fontSize": 6.5, "dx": -3, "dy": 1}, "encoding": {"x": {"value": "width"}, "y": {"datum": 1}, "text": {"field": "h"}}},
        {"transform": [{"filter": "datum.k"}], "mark": {"type": "text", "align": "right", "baseline": "middle", "fontSize": 6.5, "dx": -3, "dy": 9}, "encoding": {"x": {"value": "width"}, "y": {"datum": 1}, "text": {"field": "p"}}},
        {"transform": [{"filter": "datum.k"}], "mark": {"type": "text", "align": "left", "baseline": "middle", "fontSize": 6.5, "dx": 0}, "encoding": {"x": {"datum": 0}, "y": {"datum": 0.16}, "text": {"value": "Expression"}}},
        {"transform": [{"filter": "datum.k"}], "mark": {"type": "text", "align": "left", "baseline": "middle", "fontSize": 6, "dx": 1, "color": "#000000"}, "encoding": {"x": {"datum": 0}, "y": {"datum": 0.085}, "text": {"value": "——"}}},
        {"transform": [{"filter": "datum.k"}], "mark": {"type": "text", "align": "left", "baseline": "middle", "fontSize": 6.5, "dx": 17}, "encoding": {"x": {"datum": 0}, "y": {"datum": 0.085}, "text": {"value": "low"}}},
        {"transform": [{"filter": "datum.k"}], "mark": {"type": "text", "align": "left", "baseline": "middle", "fontSize": 6, "dx": 1, "color": "#ff0000"}, "encoding": {"x": {"datum": 0}, "y": {"datum": 0.01}, "text": {"value": "——"}}},
        {"transform": [{"filter": "datum.k"}], "mark": {"type": "text", "align": "left", "baseline": "middle", "fontSize": 6.5, "dx": 17}, "encoding": {"x": {"datum": 0}, "y": {"datum": 0.01}, "text": {"value": "high"}}}
       ]
      }
     },
     {
      "data": {"name": "B"},
      "transform": [{"filter": "datum.r == 'yes'"}],
      "title": {"text": "yes", "orient": "left", "anchor": "middle", "frame": "bounds", "fontSize": 20, "fontWeight": "normal", "offset": 1},
      "facet": {"column": {"field": "g", "type": "nominal", "header": {"title": null, "labels": false}}},
      "spacing": {"column": 10},
      "resolve": {"scale": {"x": "independent", "y": "independent"}},
      "spec": {
       "width": 116, "height": 101,
       "layer": [
        {"transform": [{"filter": "!datum.k"}], "mark": {"type": "line", "strokeWidth": 1},
         "encoding": {
          "x": {"field": "t", "type": "quantitative", "scale": {"nice": false, "padding": 5, "domain": {"unionWith": [0, 120]}}, "axis": {"title": "Time (months)"}},
          "y": {"field": "s", "type": "quantitative", "scale": {"domain": [0, 1], "padding": 4}, "axis": {"title": "Probability", "values": [0, 0.2, 0.4, 0.6, 0.8, 1], "format": ".1f"}},
          "color": {"field": "e", "type": "nominal", "scale": {"domain": ["l", "h"], "range": ["#000000", "#ff0000"]}, "legend": null}}},
        {"transform": [{"filter": "datum.k"}], "mark": {"type": "text", "align": "right", "baseline": "middle", "fontSize": 6.5, "dx": -3, "dy": 1}, "encoding": {"x": {"value": "width"}, "y": {"datum": 1}, "text": {"field": "h"}}},
        {"transform": [{"filter": "datum.k"}], "mark": {"type": "text", "align": "right", "baseline": "middle", "fontSize": 6.5, "dx": -3, "dy": 9}, "encoding": {"x": {"value": "width"}, "y": {"datum": 1}, "text": {"field": "p"}}},
        {"transform": [{"filter": "datum.k"}], "mark": {"type": "text", "align": "left", "baseline": "middle", "fontSize": 6.5, "dx": 0}, "encoding": {"x": {"datum": 0}, "y": {"datum": 0.16}, "text": {"value": "Expression"}}},
        {"transform": [{"filter": "datum.k"}], "mark": {"type": "text", "align": "left", "baseline": "middle", "fontSize": 6, "dx": 1, "color": "#000000"}, "encoding": {"x": {"datum": 0}, "y": {"datum": 0.085}, "text": {"value": "——"}}},
        {"transform": [{"filter": "datum.k"}], "mark": {"type": "text", "align": "left", "baseline": "middle", "fontSize": 6.5, "dx": 17}, "encoding": {"x": {"datum": 0}, "y": {"datum": 0.085}, "text": {"value": "low"}}},
        {"transform": [{"filter": "datum.k"}], "mark": {"type": "text", "align": "left", "baseline": "middle", "fontSize": 6, "dx": 1, "color": "#ff0000"}, "encoding": {"x": {"datum": 0}, "y": {"datum": 0.01}, "text": {"value": "——"}}},
        {"transform": [{"filter": "datum.k"}], "mark": {"type": "text", "align": "left", "baseline": "middle", "fontSize": 6.5, "dx": 17}, "encoding": {"x": {"datum": 0}, "y": {"datum": 0.01}, "text": {"value": "high"}}}
       ]
      }
     }
    ]
   }
  ]
 }
]
}
